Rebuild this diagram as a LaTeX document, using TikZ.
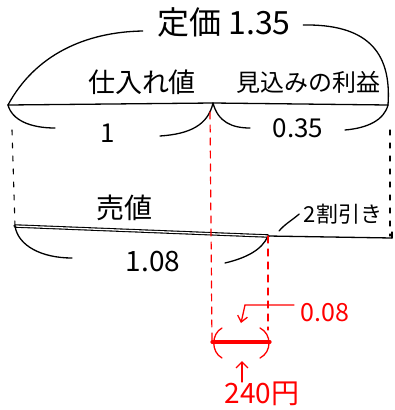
\documentclass[tikz,border=0pt]{standalone}
\usepackage{fontspec}
\newfontfamily\jp{Noto Sans CJK JP}
\usepackage{tikz}
\usetikzlibrary{positioning,arrows.meta}

\begin{document}
\begin{tikzpicture}[x=1pt,y=-1pt,line width=1.3pt,line cap=round,
  lbl/.style={font=\jp\fontsize{#1}{#1}\selectfont,inner sep=0pt},
  lbl/.default=24,
  guide/.style={dash pattern=on 5pt off 8pt,line width=1.1pt},
  redguide/.style={red,dash pattern=on 7pt off 6pt,line width=1.2pt}]
  \useasboundingbox (0,0) rectangle (395,410);

  % upper tape
  \coordinate (A) at (8,105);
  \coordinate (M) at (213,103);
  \coordinate (B) at (388,105);
  \draw (A) -- (M) -- (B);

  \node[lbl=32] (teika) at (224,22) {定価 1.35};
  \node[lbl=27] (shiire) at (142,82) {仕入れ値};
  \node[lbl=24] (rieki) at (308,82) {見込みの利益};

  \draw (A) .. controls (35,55) and (85,32) .. ([xshift=-14pt,yshift=-9pt]teika.west);
  \draw ([xshift=12pt,yshift=-3pt]teika.east) .. controls (365,24) and (392,50) .. (B);

  \node[lbl=26] (one) at (108,133) {1};
  \node[lbl=26] (p35) at (298,128) {0.35};
  \draw (A) .. controls (12,120) and (30,128) .. (55,128);
  \draw (160,136) .. controls (190,134) and (208,125) .. (M);
  \draw (M) .. controls (218,122) and (232,128) .. (250,128);
  \draw (345,130) .. controls (368,128) and (384,120) .. (B);

  % lower tape
  \coordinate (S) at (15,226);
  \coordinate (E) at (268,236);
  \coordinate (T) at (392,238);
  \draw[double,double distance=1.3pt,line width=1.1pt] (S) -- (E);
  \draw (E) -- (T);
  \draw (T) -- ++(0,-6);

  \node[lbl=28] (urine) at (124,208) {売値};
  \node[lbl=22] (waribiki) at (343,214) {2割引き};
  \draw (279,231) .. controls (285,224) and (291,221) .. ([xshift=-4pt]waribiki.west);

  \node[lbl=28] (p108) at (153,262) {1.08};
  \draw (S) .. controls (18,246) and (42,258) .. (72,258);
  \draw (225,263) .. controls (246,258) and (262,250) .. (E);

  \draw[guide] (12,130) -- (S);
  \draw[guide] (390,130) -- (390,236);

  % difference
  \coordinate (R1) at (212,342);
  \coordinate (R2) at (270,342);
  \draw[redguide] (210,112) -- (R1);
  \draw[redguide] (E) -- (268,330);
  \draw[red,line width=3.2pt] (R1) -- (R2);
  \draw[red] (222,328) .. controls (211,334) and (211,352) .. (222,358);
  \draw[red] (260,328) .. controls (272,334) and (272,352) .. (260,358);

  \node[lbl=25,red] (p008) at (325,313) {0.08};
  \draw[red,-{Straight Barb[length=6pt,width=10pt]}] (p008.west) ++(-6,-8) -- (245,305) -- (241,323);

  \node[lbl=28,red] (yen) at (262,394) {240円};
  \draw[red,-{Straight Barb[length=6pt,width=12pt]}] (242,382) -- (242,361);
\end{tikzpicture}
\end{document}
